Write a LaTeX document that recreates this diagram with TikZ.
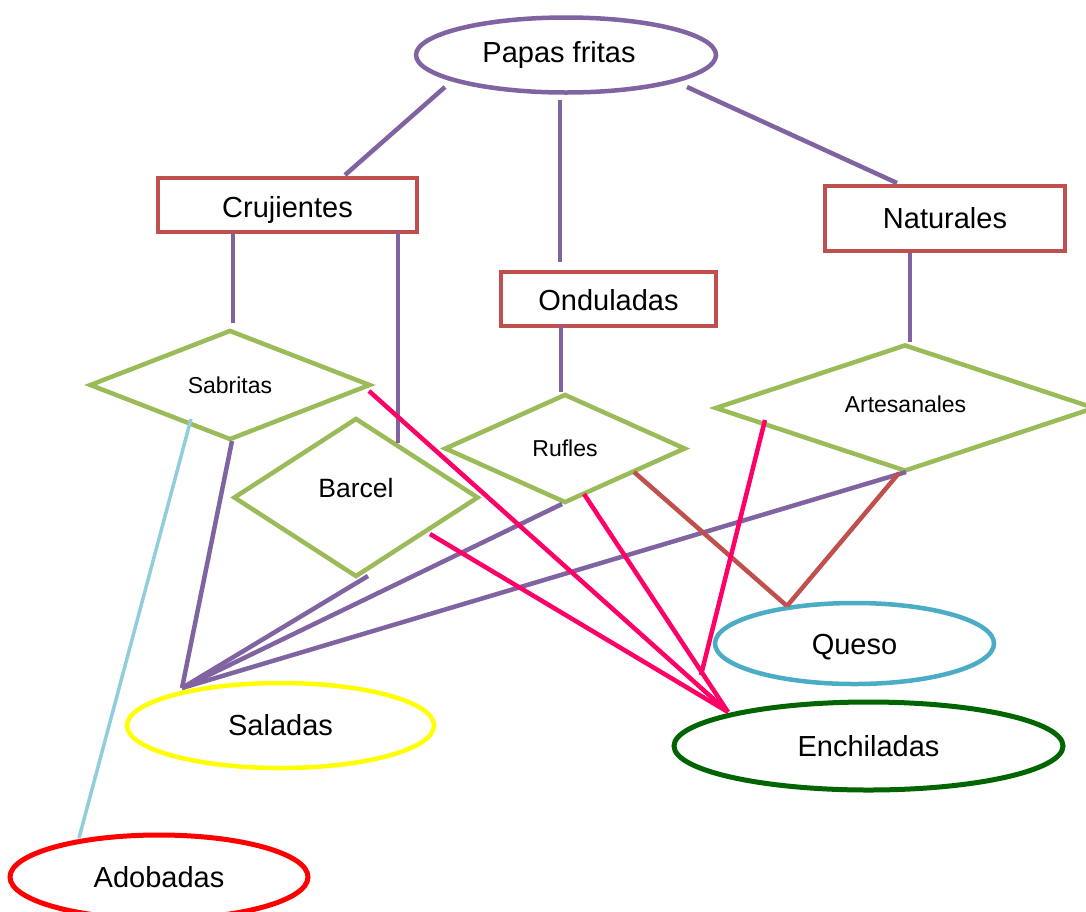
\documentclass[tikz,border=0pt]{standalone}
\usepackage{fontspec}
\setmainfont{Liberation Sans}
\usetikzlibrary{shapes.geometric}
\definecolor{cpurple}{HTML}{8064A2}
\definecolor{cred}{HTML}{C0504D}
\definecolor{cgreen}{HTML}{9BBB59}
\definecolor{cqueso}{HTML}{4BACC6}
\definecolor{clblue}{HTML}{92CDDC}
\definecolor{cpink}{HTML}{FF0066}
\definecolor{cyellow}{HTML}{FFFF00}
\definecolor{cdgreen}{HTML}{006400}
\definecolor{cbred}{HTML}{FF0000}
\tikzset{
  big/.style={font=\fontsize{29}{29}\selectfont},
  small/.style={font=\fontsize{23}{23}\selectfont},
  ell/.style={ellipse, draw, line width=4.5pt, inner sep=0pt, big},
  rectbox/.style={rectangle, draw=cred, line width=4.5pt, inner sep=0pt, big},
  dia/.style={diamond, draw=cgreen, line width=4.5pt, inner sep=0pt, small},
  pline/.style={cpurple, line width=4.5pt},
  rline/.style={cred, line width=4.5pt},
  kline/.style={cpink, line width=4.5pt},
  bline/.style={clblue, line width=3.5pt},
}
\begin{document}
\begin{tikzpicture}[x=1pt,y=-1pt]
\clip (0,0) rectangle (1086,911);
\fill[white] (0,0) rectangle (1086,911);
% nodes
\node[ell, draw=cpurple, minimum width=300pt, minimum height=75pt] (papas) at (566,55) {\hspace*{-14pt}Papas fritas};
\node[rectbox, minimum width=259pt, minimum height=54pt, text height=30pt, text depth=6pt] (cruj) at (287.5,205) {Crujientes};
\node[rectbox, minimum width=215pt, minimum height=54pt, text height=28pt, text depth=6pt] (ond) at (608.5,299) {Onduladas};
\node[rectbox, minimum width=240pt, minimum height=65pt] (nat) at (945,218.5) {Naturales};
\node[dia, minimum width=281pt, minimum height=110pt] (sab) at (230,385) {Sabritas};
\node[dia, minimum width=245pt, minimum height=159pt] (bar) at (356,497.5) {};
\node[big, font=\fontsize{26.5}{26.5}\selectfont] (bartxt) at (356,488) {Barcel};
\node[dia, minimum width=241pt, minimum height=109pt] (ruf) at (565,448.5) {Rufles};
\node[dia, minimum width=380pt, minimum height=127pt] (art) at (905,408) {};
\node[small] (arttxt) at (905.5,404) {Artesanales};
\node[ell, draw=cqueso, minimum width=279pt, minimum height=81pt, text height=28pt, text depth=6pt] (queso) at (854.5,643.5) {Queso};
\node[ell, draw=cyellow, minimum width=307pt, minimum height=85pt] (sal) at (280.5,725.5) {Saladas};
\node[ell, draw=cdgreen, line width=5pt, minimum width=389pt, minimum height=88pt] (enc) at (868.5,746) {Enchiladas};
\node[ell, draw=cbred, line width=5pt, minimum width=298pt, minimum height=84pt] (ado) at (159,877) {Adobadas};
% connector end points
\coordinate (a1) at (445,87);  \coordinate (a2) at (345,175);
\coordinate (b1) at (560,100); \coordinate (b2) at (560,262);
\coordinate (c1) at (687,87);  \coordinate (c2) at (897,183);
\coordinate (d1) at (233,233); \coordinate (d2) at (233,323);
\coordinate (e1) at (398,232); \coordinate (e2) at (398,443);
\coordinate (f1) at (561,326); \coordinate (f2) at (561,392);
\coordinate (g1) at (910,253); \coordinate (g2) at (910,342);
\coordinate (salp) at (182,688);
\coordinate (h1) at (232,441);
\coordinate (h2) at (368,576);
\coordinate (h3) at (562,504);
\coordinate (h4) at (906,472);
\coordinate (i1) at (191,419); \coordinate (i2) at (79,838);
\coordinate (qp) at (787,606);
\coordinate (j1) at (634,472); \coordinate (j2) at (899,473);
\coordinate (encp) at (728,712);
\coordinate (k1) at (369,391);
\coordinate (k2) at (430,534);
\coordinate (k3) at (584,494);
\coordinate (k4) at (765,420); \coordinate (k5) at (701,675);
% purple connectors
\draw[pline] (a1) -- (a2);
\draw[pline] (b1) -- (b2);
\draw[pline] (c1) -- (c2);
\draw[pline] (d1) -- (d2);
\draw[pline] (e1) -- (e2);
\draw[pline] (f1) -- (f2);
\draw[pline] (g1) -- (g2);
\draw[pline] (h1) -- (salp);
\draw[pline] (h2) -- (salp);
\draw[pline] (h3) -- (salp);
\draw[pline] (h4) -- (salp);
% light blue
\draw[bline] (i1) -- (i2);
% brown-red
\draw[rline] (j1) -- (qp);
\draw[rline] (j2) -- (qp);
% pink
\draw[kline] (k1) -- (encp);
\draw[kline] (k2) -- (encp);
\draw[kline] (k3) -- (encp);
\draw[kline] (k4) -- (k5);
\end{tikzpicture}
\end{document}
